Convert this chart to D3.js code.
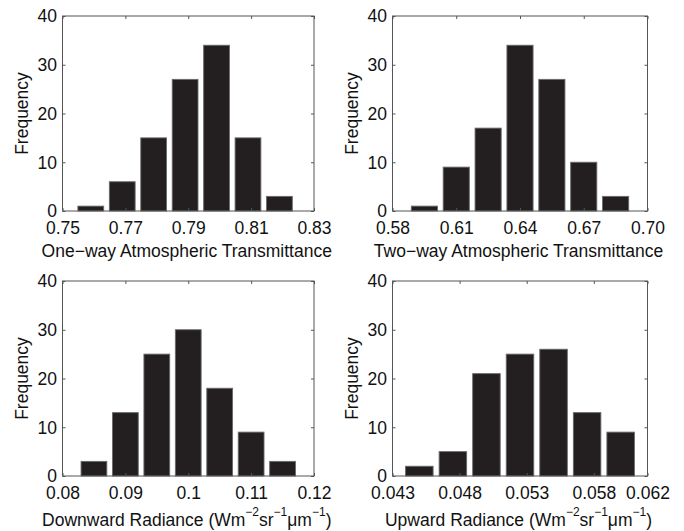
<!DOCTYPE html>
<html>
<head>
<meta charset="utf-8">
<script src="https://cdn.jsdelivr.net/npm/d3@7"></script>
<style>
  html, body { margin: 0; padding: 0; background: #fff; }
  svg { display: block; }
  text { font-family: "Liberation Sans", Arial, Helvetica, sans-serif; fill: #111; }
</style>
</head>
<body>
<svg id="chart" width="684" height="531"></svg>
<script>
// Histogram bin centres and frequencies for each retrieved quantity
const oneWayCenters = [0.759, 0.769, 0.779, 0.789, 0.799, 0.809, 0.819];
const oneWayCounts  = [1, 6, 15, 27, 34, 15, 3];
const oneWayBin = 0.01;
const oneWayTicks = [0.75, 0.77, 0.79, 0.81, 0.83];
const oneWayTickLabels = ["0.75", "0.77", "0.79", "0.81", "0.83"];

const twoWayCenters = [0.595, 0.610, 0.625, 0.640, 0.655, 0.670, 0.685];
const twoWayCounts  = [1, 9, 17, 34, 27, 10, 3];
const twoWayBin = 0.015;
const twoWayTicks = [0.58, 0.61, 0.64, 0.67, 0.70];
const twoWayTickLabels = ["0.58", "0.61", "0.64", "0.67", "0.70"];

const downCenters = [0.085, 0.090, 0.095, 0.100, 0.105, 0.110, 0.115];
const downCounts  = [3, 13, 25, 30, 18, 9, 3];
const downBin = 0.005;
const downTicks = [0.08, 0.09, 0.1, 0.11, 0.12];
const downTickLabels = ["0.08", "0.09", "0.1", "0.11", "0.12"];

const upCenters = [0.045, 0.0475, 0.050, 0.0525, 0.055, 0.0575, 0.060];
const upCounts  = [2, 5, 21, 25, 26, 13, 9];
const upBin = 0.0025;
const upTicks = [0.043, 0.048, 0.053, 0.058, 0.062];
const upTickLabels = ["0.043", "0.048", "0.053", "0.058", "0.062"];

const freqTicks = [0, 10, 20, 30, 40];
const freqLabel = "Frequency";

const svg = d3.select("#chart");
const FONT = 17.5;

const panels = [
  { centers: oneWayCenters, counts: oneWayCounts, bin: oneWayBin, ticks: oneWayTicks, labels: oneWayTickLabels,
    title: [{ t: "One\u2212way Atmospheric Transmittance" }],
    box: { x: 62.5, y: 16, w: 251.5, h: 195 }, titleDy: 45.7 },
  { centers: twoWayCenters, counts: twoWayCounts, bin: twoWayBin, ticks: twoWayTicks, labels: twoWayTickLabels,
    title: [{ t: "Two\u2212way Atmospheric Transmittance" }],
    box: { x: 392.5, y: 16, w: 255, h: 195 }, titleDy: 45.7 },
  { centers: downCenters, counts: downCounts, bin: downBin, ticks: downTicks, labels: downTickLabels,
    title: [{ t: "Downward Radiance (Wm" }, { t: "\u22122", sup: true }, { t: "sr" }, { t: "\u22121", sup: true },
            { t: "\u03bcm" }, { t: "\u22121", sup: true }, { t: ")" }],
    box: { x: 62.5, y: 281, w: 251.5, h: 195 }, titleDy: 49.7 },
  { centers: upCenters, counts: upCounts, bin: upBin, ticks: upTicks, labels: upTickLabels,
    title: [{ t: "Upward Radiance (Wm" }, { t: "\u22122", sup: true }, { t: "sr" }, { t: "\u22121", sup: true },
            { t: "\u03bcm" }, { t: "\u22121", sup: true }, { t: ")" }],
    box: { x: 392.5, y: 281, w: 255, h: 195 }, titleDy: 49.7 }
];

panels.forEach(p => {
  const b = p.box;
  const x = d3.scaleLinear().domain([p.ticks[0], p.ticks[p.ticks.length - 1]]).range([b.x, b.x + b.w]);
  const y = d3.scaleLinear().domain([0, 40]).range([b.y + b.h, b.y]);
  const g = svg.append("g");

  // bars
  const data = p.centers.map((c, i) => ({ c, n: p.counts[i] }));
  const barW = p.bin * 0.82;
  g.selectAll("rect.bar").data(data).enter().append("rect")
    .attr("class", "bar")
    .attr("x", d => x(d.c - barW / 2))
    .attr("width", d => x(d.c + barW / 2) - x(d.c - barW / 2))
    .attr("y", d => y(d.n))
    .attr("height", d => y(0) - y(d.n))
    .attr("fill", "#231f20")
    .attr("stroke", "#6a6a6a")
    .attr("stroke-width", 0.9);

  // axes: ticks drawn inward on all four sides
  const tickLen = 3;
  const axisStyle = sel => {
    sel.select(".domain").remove();
    sel.selectAll(".tick line").attr("stroke", "#555").attr("stroke-width", 1);
  };
  const xb = g.append("g").attr("transform", `translate(0,${b.y + b.h})`)
    .call(d3.axisBottom(x).tickValues(p.ticks).tickSize(-tickLen).tickFormat((d, i) => p.labels[i]).tickPadding(0));
  axisStyle(xb);
  xb.selectAll(".tick text").attr("font-size", FONT).attr("fill", "#111")
    .attr("y", 22.5).attr("dy", null).attr("font-family", '"Liberation Sans", Arial, sans-serif');
  const xt = g.append("g").attr("transform", `translate(0,${b.y})`)
    .call(d3.axisTop(x).tickValues(p.ticks).tickSize(-tickLen).tickFormat(""));
  axisStyle(xt);

  const yl = g.append("g").attr("transform", `translate(${b.x},0)`)
    .call(d3.axisLeft(y).tickValues(freqTicks).tickSize(-tickLen).tickPadding(0));
  axisStyle(yl);
  yl.selectAll(".tick text").attr("font-size", FONT).attr("fill", "#111")
    .attr("x", -5.5).attr("dy", "0.34em").attr("font-family", '"Liberation Sans", Arial, sans-serif');
  const yr = g.append("g").attr("transform", `translate(${b.x + b.w},0)`)
    .call(d3.axisRight(y).tickValues(freqTicks).tickSize(-tickLen).tickFormat(""));
  axisStyle(yr);

  // frame
  g.append("rect")
    .attr("x", b.x).attr("y", b.y).attr("width", b.w).attr("height", b.h)
    .attr("fill", "none").attr("stroke", "#555").attr("stroke-width", 1);

  // y title
  g.append("text")
    .attr("transform", `translate(${b.x - 35},${b.y + b.h / 2}) rotate(-90)`)
    .attr("text-anchor", "middle")
    .attr("font-size", FONT)
    .text(freqLabel);

  // x title with superscripts
  const t = g.append("text")
    .attr("x", b.x + b.w / 2 - 1.5)
    .attr("y", b.y + b.h + p.titleDy)
    .attr("text-anchor", "middle")
    .attr("font-size", FONT);
  let raised = false;
  p.title.forEach(part => {
    const ts = t.append("tspan").text(part.t);
    if (part.sup && !raised) { ts.attr("dy", -10).attr("font-size", 12); raised = true; }
    else if (part.sup && raised) { ts.attr("font-size", 12); }
    else if (!part.sup && raised) { ts.attr("dy", 10); raised = false; }
  });
});
</script>
</body>
</html>
